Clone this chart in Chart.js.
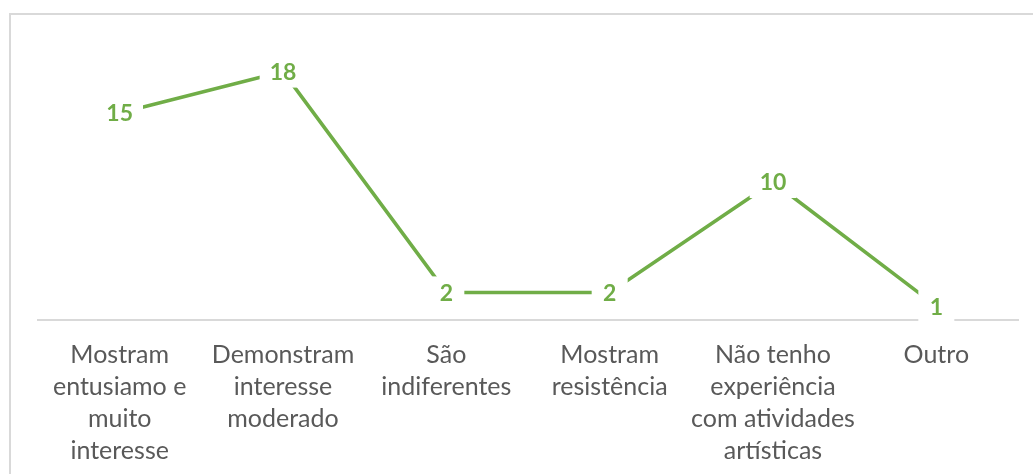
<!DOCTYPE html>
<html>
<head>
<meta charset="utf-8">
<script src="https://cdn.jsdelivr.net/npm/chart.js@4.4.1/dist/chart.umd.min.js"></script>
<style>
  html, body { margin: 0; padding: 0; background: #fff; overflow: hidden; }
  #frame {
    position: absolute; left: 9px; top: 13px;
    width: 1100px; height: 520px;
    border: 2px solid #d9d9d9;
  }
  #wrap { position: absolute; left: 0; top: 0; width: 1033px; height: 474px; }
</style>
</head>
<body>
<div id="frame"></div>
<div id="wrap"><canvas id="chart"></canvas></div>
<script>
const categories = [
  ['Mostram', 'entusiamo e', 'muito', 'interesse'],
  ['Demonstram', 'interesse', 'moderado'],
  ['São', 'indiferentes'],
  ['Mostram', 'resistência'],
  ['Não tenho', 'experiência', 'com atividades', 'artísticas'],
  ['Outro']
];
const responses = [15, 18, 2, 2, 10, 1];

const green = '#70AD47';

// Excel-style value labels: white box behind bold text, centred on the point
const valueLabels = {
  id: 'valueLabels',
  afterDatasetsDraw(chart) {
    const ctx = chart.ctx;
    const meta = chart.getDatasetMeta(0);
    ctx.save();
    ctx.font = 'bold 23px Lato';
    ctx.textAlign = 'center';
    ctx.textBaseline = 'middle';
    meta.data.forEach((pt, i) => {
      const txt = String(responses[i]);
      const w = ctx.measureText(txt).width;
      const hw = Math.max(w / 2 + 10, 18);
      ctx.fillStyle = '#fff';
      ctx.fillRect(pt.x - hw, pt.y - 16, hw * 2, 32);
      ctx.fillStyle = green;
      ctx.fillText(txt, pt.x, pt.y + 1);
    });
    ctx.restore();
  }
};

new Chart(document.getElementById('chart'), {
  type: 'line',
  data: {
    labels: categories,
    datasets: [{
      data: responses,
      borderColor: green,
      borderWidth: 3.5,
      pointRadius: 0,
      tension: 0,
      fill: false
    }]
  },
  options: {
    responsive: true,
    maintainAspectRatio: false,
    animation: false,
    layout: { padding: { left: 38, right: 15, top: 44, bottom: 8 } },
    plugins: {
      legend: { display: false },
      tooltip: { enabled: false }
    },
    scales: {
      x: {
        offset: true,
        grid: { display: false, drawTicks: false },
        border: { display: true, color: '#d9d9d9', width: 2 },
        ticks: {
          color: '#595959',
          font: { family: 'Lato', size: 25, lineHeight: 1.28 },
          padding: 19,
          maxRotation: 0,
          autoSkip: false
        },
        afterFit(scale) { scale.height -= 20; }
      },
      y: {
        display: false,
        min: 0,
        max: 20
      }
    }
  },
  plugins: [valueLabels]
});
</script>
</body>
</html>
